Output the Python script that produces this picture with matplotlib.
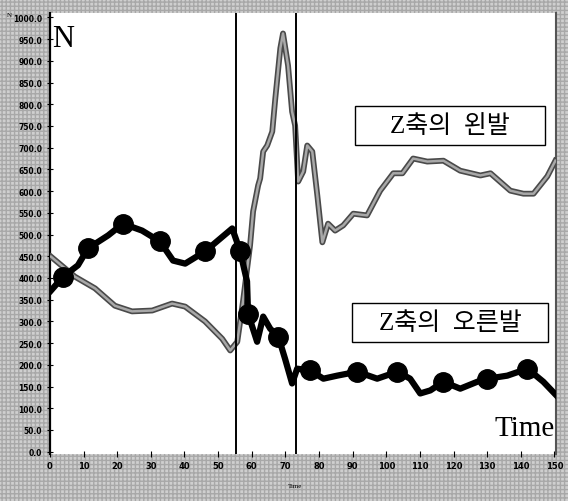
import numpy as np
import matplotlib
matplotlib.use("Agg")
import matplotlib.pyplot as plt
import matplotlib.patches as patches

plt.rcParams['font.family'] = ['Liberation Serif', 'Noto Sans CJK KR', 'DejaVu Sans']

# left foot (gray line)
left_t = [0.3, 7.4, 13.4, 19.3, 24.4, 30.4, 36.3, 40.2, 46.1, 51.2, 53.6, 55.7,
          57.4, 59.5, 60.4, 61.9, 62.5, 63.4, 64.6, 66.1, 67.0, 68.5, 69.3, 70.8,
          72.0, 72.9, 73.8, 75.3, 76.5, 78.0, 79.5, 81.0, 82.7, 84.8, 87.2, 90.2,
          94.3, 98.2, 102.1, 104.8, 108.0, 112.2, 117.0, 122.0, 128.0, 131.0,
          136.9, 140.8, 143.8, 147.9, 150.3]
left_v = [449, 403, 376, 336, 323, 325, 341, 334, 300, 260, 233, 253,
          346, 475, 553, 613, 629, 691, 705, 737, 813, 929, 963, 889,
          783, 751, 622, 645, 705, 691, 590, 482, 525, 509, 521, 548,
          544, 601, 641, 641, 675, 668, 670, 647, 636, 641,
          601, 594, 594, 634, 670]

# right foot (black line with markers)
right_t = [0.3, 3.9, 8.3, 11.3, 17.3, 21.7, 27.4, 32.7, 36.6, 40.2, 46.1, 54.2,
           56.5, 58.6, 58.9, 61.6, 63.4, 65.5, 67.9, 69.9, 72.0, 73.5, 77.4,
           81.3, 85.4, 91.4, 97.3, 103.3, 107.1, 110.1, 113.1, 117.0, 122.0,
           127.1, 130.1, 136.0, 142.0, 146.7, 150.9]
right_v = [371, 403, 429, 468, 498, 525, 509, 484, 440, 433, 461, 514,
           463, 392, 318, 253, 311, 283, 265, 214, 157, 191, 187,
           168, 175, 184, 168, 184, 168, 134, 141, 161, 145,
           161, 168, 175, 191, 161, 127]
right_marks = [1, 3, 5, 7, 10, 12, 14, 18, 22, 25, 27, 31, 34, 36]

vlines = [55.4, 73.2]
xticks = list(range(0, 151, 10))
yticks = list(range(0, 1001, 50))

labels = ['Z축의  왼발', 'Z축의  오른발']

fig = plt.figure(figsize=(5.68, 5.02), dpi=100)
fig.patch.set_facecolor('#cfcfcf')
bg = patches.Rectangle((0, 0), 1, 1, transform=fig.transFigure, facecolor='#cfcfcf',
                       edgecolor='#a8a8a8', hatch='++++', linewidth=0, zorder=-10)
fig.patches.append(bg)

ax = fig.add_axes([0.088, 0.094, 0.891, 0.878])
ax.set_facecolor('white')
ax.set_xlim(0, 150.5)
ax.set_ylim(-5, 1010)

ax.plot(left_t, left_v, color='#4a4a4a', lw=4.2, solid_joinstyle='round', zorder=3)
ax.plot(left_t, left_v, color='#a8a8a8', lw=1.8, solid_joinstyle='round', zorder=3)
ax.plot(right_t, right_v, color='black', lw=4.5, solid_joinstyle='round',
        marker='o', markersize=14, markevery=right_marks, zorder=4)

for x in vlines:
    ax.axvline(x, color='black', lw=1.4, zorder=5)

ax.set_xticks(xticks)
ax.set_yticks(yticks)
ax.set_xticklabels([str(t) for t in xticks], fontsize=6, fontweight='bold',
                   family='DejaVu Sans')
ax.set_yticklabels(['%.1f' % v for v in yticks], fontsize=5.5, fontweight='bold',
                   family='DejaVu Sans')
ax.tick_params(direction='inout', length=5, width=0.8, pad=3)

for s in ['top', 'bottom']:
    ax.spines[s].set_visible(False)
ax.spines['left'].set_linewidth(1.6)
ax.spines['right'].set_color('#555555')
ax.spines['right'].set_linewidth(1.5)

ax.text(0.5, 985, 'N', fontsize=22, va='top', ha='left')
ax.text(150, 25, 'Time', fontsize=21, va='bottom', ha='right')

# label boxes
for (x0, y0, w, h), lab in zip([(90.8, 705, 56.5, 90), (89.9, 253, 58.3, 90)], labels):
    ax.add_patch(patches.Rectangle((x0, y0), w, h, facecolor='white',
                                   edgecolor='black', lw=1, zorder=6))
    ax.text(x0 + w / 2, y0 + h / 2, lab, fontsize=18, va='center', ha='center',
            zorder=7)

fig.text(0.012, 0.975, 'N', fontsize=5, ha='left', va='top')
fig.text(0.52, 0.03, 'Time', fontsize=5, ha='center', va='center')

fig.savefig('out.png', dpi=100, facecolor=fig.get_facecolor())
